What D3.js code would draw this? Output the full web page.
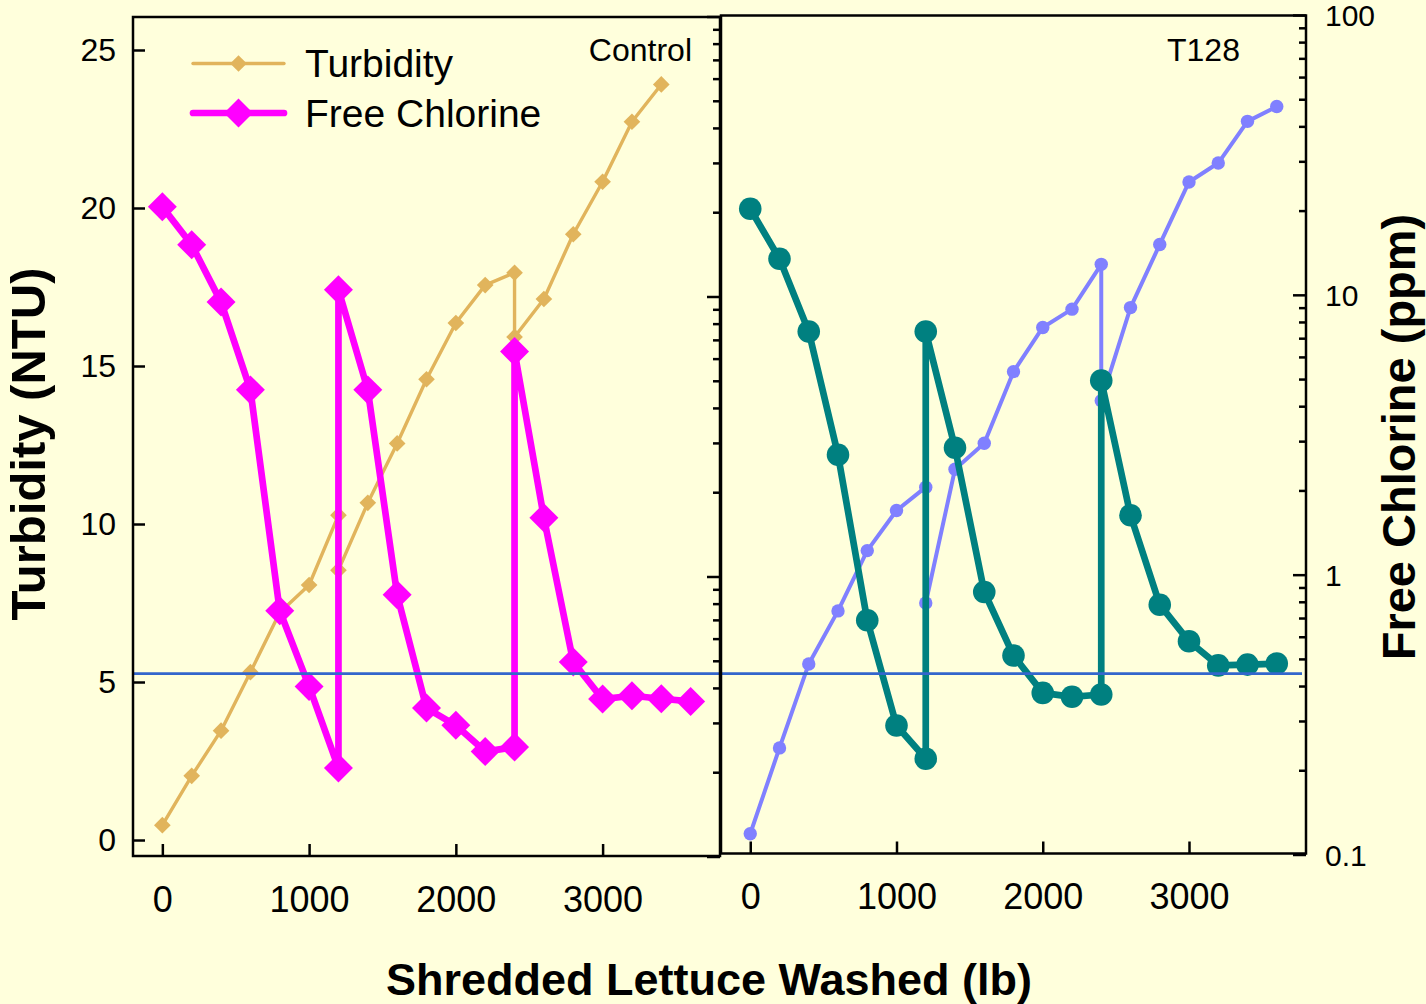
<!DOCTYPE html>
<html>
<head>
<meta charset="utf-8">
<script src="https://cdn.jsdelivr.net/npm/d3@7"></script>
<style>
  html, body { margin: 0; padding: 0; background: #FFFFDC; }
  svg { display: block; font-family: "Liberation Sans", Arial, sans-serif; }
</style>
</head>
<body>
<svg id="chart" width="1426" height="1004"></svg>
<script>
// Shredded lettuce washed (lb); repeated loads mark the re-chlorination steps
const loadsLb = [0, 200, 400, 600, 800, 1000, 1200, 1200, 1400, 1600, 1800, 2000, 2200, 2400, 2400, 2600, 2800, 3000, 3200, 3400, 3600];

// Control wash water
const controlTurbidity = [0.47, 2.03, 3.46, 5.31, 7.2, 8.07, 10.28, 8.54, 10.67, 12.55, 14.58, 16.36, 17.56, 17.95, 15.92, 17.12, 19.17, 20.83, 22.73, 23.91, null];
const controlChlorine  = [20.9, 15.3, 9.55, 4.64, 0.754, 0.405, 0.207, 10.57, 4.64, 0.86, 0.339, 0.294, 0.237, 0.246, 6.36, 1.62, 0.495, 0.365, 0.375, 0.366, 0.358];

// T128-treated wash water
const t128Turbidity = [0.12, 2.84, 5.5, 7.18, 9.09, 10.36, 11.1, 7.43, 11.67, 12.49, 14.76, 16.16, 16.74, 18.16, 13.84, 16.79, 18.79, 20.77, 21.37, 22.69, 23.16];
const t128Chlorine  = [20.3, 13.45, 7.39, 2.68, 0.687, 0.289, 0.22, 7.39, 2.84, 0.867, 0.514, 0.378, 0.366, 0.373, 4.94, 1.63, 0.781, 0.578, 0.474, 0.477, 0.481];

// Free chlorine reference level (ppm)
const thresholdChlorine = 0.45;

// Axis ticks
const xTicks = [0, 1000, 2000, 3000];
const turbidityTicks = [0, 5, 10, 15, 20, 25];
const chlorineMajor = [0.1, 1, 10, 100];
const chlorineMinor = [2, 3, 4, 5, 6, 7, 8, 9].flatMap(m => [0.1 * m, m, 10 * m].map(v => +v.toPrecision(3)));

const colors = {
  turbidity: "#E1B45C",
  chlorine: "#FF00FF",
  t128Turbidity: "#8080FF",
  t128Chlorine: "#008080",
  threshold: "#3366CC"
};

const svg = d3.select("#chart");
const fontFam = "'Liberation Sans', Arial, sans-serif";

const panels = [
  { name: "Control", x0: 133, x1: 720, y0: 17, y1: 856, clRange: [856.5, 16.5],
    turb: controlTurbidity, cl: controlChlorine,
    turbColor: colors.turbidity, clColor: colors.chlorine, marker: "diamond" },
  { name: "T128", x0: 721, x1: 1306, y0: 15.5, y1: 853.5, clRange: [854.5, 15],
    turb: t128Turbidity, cl: t128Chlorine,
    turbColor: colors.t128Turbidity, clColor: colors.t128Chlorine, marker: "circle" }
];

panels.forEach(p => {
  p.x = d3.scaleLinear().domain([-200, 3800]).range([p.x0, p.x1]);
  p.yT = d3.scaleLinear().domain([-0.506, 26.044]).range([p.y1, p.y0]);
  p.yC = d3.scaleLog().domain([0.1, 100]).range(p.clRange);
});

const diamond = size => d3.symbol().type(d3.symbolSquare).size(size);

panels.forEach((p, i) => {
  const g = svg.append("g");

  // frame background
  g.append("rect")
    .attr("x", p.x0).attr("y", p.y0)
    .attr("width", p.x1 - p.x0).attr("height", p.y1 - p.y0)
    .attr("fill", "#FFFFDC");

  // bottom axis (ticks point inward)
  const xa = g.append("g").attr("transform", `translate(0,${p.y1})`)
    .call(d3.axisBottom(p.x).tickValues(xTicks).tickSize(-12).tickPadding(30).tickFormat(d3.format("d")));
  xa.select(".domain").remove();
  xa.selectAll("line").attr("stroke", "#000").attr("stroke-width", 2.5);
  xa.selectAll("text").attr("font-size", 36).attr("font-family", fontFam).attr("fill", "#000");

  if (i === 0) {
    const ya = g.append("g").attr("transform", `translate(${p.x0},0)`)
      .call(d3.axisLeft(p.yT).tickValues(turbidityTicks).tickSize(-12).tickPadding(17));
    ya.select(".domain").remove();
    ya.selectAll("line").attr("stroke", "#000").attr("stroke-width", 2.5);
    ya.selectAll("text").attr("font-size", 32).attr("font-family", fontFam).attr("fill", "#000");
  }

  // log chlorine ticks on the right edge of each panel
  const minorAx = g.append("g").attr("transform", `translate(${p.x1},0)`)
    .call(d3.axisRight(p.yC).tickValues(chlorineMinor).tickSize(-7).tickFormat(""));
  minorAx.select(".domain").remove();
  minorAx.selectAll("line").attr("stroke", "#000").attr("stroke-width", 2.5);

  const majorAx = g.append("g").attr("transform", `translate(${p.x1},0)`)
    .call(d3.axisRight(p.yC).tickValues(chlorineMajor).tickSize(-13).tickPadding(19)
      .tickFormat(i === 1 ? d => (d < 1 ? d3.format(".1f")(d) : d3.format("d")(d)) : ""));
  majorAx.select(".domain").remove();
  majorAx.selectAll("line").attr("stroke", "#000").attr("stroke-width", 2.5);
  majorAx.selectAll("text").attr("font-size", 30).attr("dy", "0.36em")
    .attr("font-family", fontFam).attr("fill", "#000");

  const clip = "clip" + i;
  svg.append("clipPath").attr("id", clip).append("rect")
    .attr("x", p.x0).attr("y", p.y0).attr("width", p.x1 - p.x0).attr("height", p.y1 - p.y0);
  const plot = g.append("g").attr("clip-path", `url(#${clip})`);

  const turbPts = loadsLb.map((lb, k) => ({ lb, v: p.turb[k] })).filter(d => d.v != null);
  const clPts = loadsLb.map((lb, k) => ({ lb, v: p.cl[k] })).filter(d => d.v != null);

  // turbidity series
  plot.append("path").datum(turbPts)
    .attr("fill", "none").attr("stroke", p.turbColor)
    .attr("stroke-width", p.marker === "diamond" ? 3.4 : 4)
    .attr("stroke-linejoin", "round")
    .attr("d", d3.line().x(d => p.x(d.lb)).y(d => p.yT(d.v)));
  if (p.marker === "diamond") {
    plot.selectAll(".tm").data(turbPts).join("path")
      .attr("d", diamond(139)())
      .attr("transform", d => `translate(${p.x(d.lb)},${p.yT(d.v)}) rotate(45)`)
      .attr("fill", p.turbColor);
  } else {
    plot.selectAll(".tm").data(turbPts).join("circle")
      .attr("cx", d => p.x(d.lb)).attr("cy", d => p.yT(d.v)).attr("r", 6.7)
      .attr("fill", p.turbColor);
  }

  // free chlorine series
  plot.append("path").datum(clPts)
    .attr("fill", "none").attr("stroke", p.clColor).attr("stroke-width", 6.7)
    .attr("stroke-linejoin", "round")
    .attr("d", d3.line().x(d => p.x(d.lb)).y(d => p.yC(d.v)));
  if (p.marker === "diamond") {
    plot.selectAll(".cm").data(clPts).join("path")
      .attr("d", diamond(420)())
      .attr("transform", d => `translate(${p.x(d.lb)},${p.yC(d.v)}) rotate(45)`)
      .attr("fill", p.clColor);
  } else {
    plot.selectAll(".cm").data(clPts).join("circle")
      .attr("cx", d => p.x(d.lb)).attr("cy", d => p.yC(d.v)).attr("r", 11.3)
      .attr("fill", p.clColor);
  }

  g.append("text")
    .attr("x", i === 0 ? 692 : 1167).attr("y", 61)
    .attr("text-anchor", i === 0 ? "end" : "start")
    .attr("font-size", 32).attr("font-family", fontFam).attr("fill", "#000")
    .text(p.name);
});

// reference level across both panels
const yTh = panels[0].yC(thresholdChlorine);
svg.append("line")
  .attr("x1", panels[0].x0).attr("x2", panels[1].x1 - 4)
  .attr("y1", yTh).attr("y2", yTh)
  .attr("stroke", colors.threshold).attr("stroke-width", 2.6);

// frames on top
panels.forEach(p => {
  svg.append("rect")
    .attr("x", p.x0).attr("y", p.y0)
    .attr("width", p.x1 - p.x0).attr("height", p.y1 - p.y0)
    .attr("fill", "none").attr("stroke", "#000").attr("stroke-width", 2.5);
});

// legend
const legend = svg.append("g");
const legendItems = [
  { label: "Turbidity", color: colors.turbidity, width: 3.4, size: 139, y: 63.5, ty: 77 },
  { label: "Free Chlorine", color: colors.chlorine, width: 6.7, size: 420, y: 113, ty: 127 }
];
legendItems.forEach(it => {
  legend.append("line").attr("x1", 193).attr("x2", 284).attr("y1", it.y).attr("y2", it.y)
    .attr("stroke", it.color).attr("stroke-width", it.width).attr("stroke-linecap", "round");
  legend.append("path").attr("d", diamond(it.size)())
    .attr("transform", `translate(238.5,${it.y}) rotate(45)`).attr("fill", it.color);
  legend.append("text").attr("x", 305).attr("y", it.ty)
    .attr("font-size", 39).attr("font-family", fontFam).attr("fill", "#000").text(it.label);
});

// axis titles
svg.append("text")
  .attr("transform", "translate(45,444) rotate(-90)")
  .attr("text-anchor", "middle").attr("font-size", 49).attr("font-weight", "bold")
  .attr("font-family", fontFam).attr("fill", "#000")
  .text("Turbidity (NTU)");

svg.append("text")
  .attr("transform", "translate(1415,437) rotate(-90)")
  .attr("text-anchor", "middle").attr("font-size", 47).attr("font-weight", "bold")
  .attr("font-family", fontFam).attr("fill", "#000")
  .text("Free Chlorine (ppm)");

svg.append("text")
  .attr("x", 709).attr("y", 995)
  .attr("text-anchor", "middle").attr("font-size", 45).attr("font-weight", "bold")
  .attr("font-family", fontFam).attr("fill", "#000")
  .text("Shredded Lettuce Washed (lb)");
</script>
</body>
</html>
